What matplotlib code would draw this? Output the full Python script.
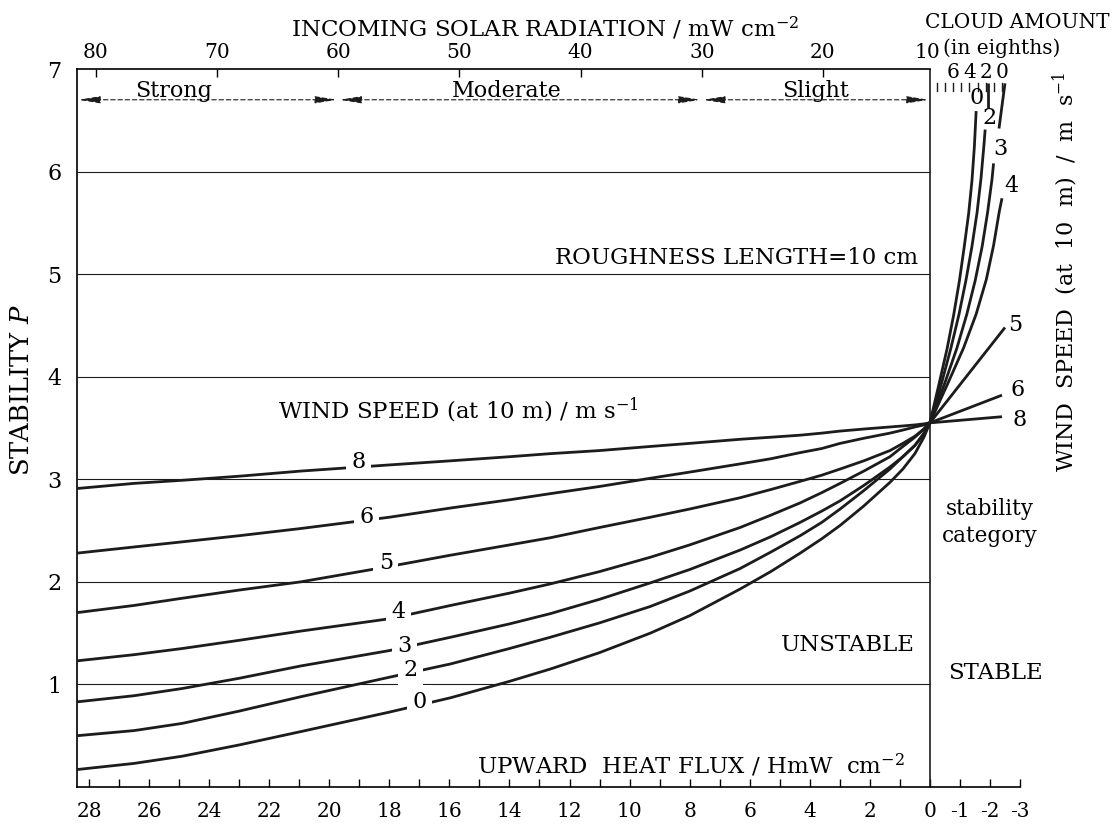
import matplotlib.pyplot as plt

plt.rcParams['font.family'] = 'DejaVu Serif'
plt.rcParams['mathtext.fontset'] = 'dejavuserif'

# upward heat flux (mW cm-2) where the unstable curves were read
flux_unst = [28.4, 26.5, 24.9, 23, 20.95, 18, 15.96, 14, 12.64, 11, 9.31, 8,
             6.32, 5.3, 4.32, 3.6, 2.99, 2.2, 1.33, 0.9, 0.5, 0.2, 0.0]
# stability P for each wind speed (m/s), unstable side
stab_unst = {
    '8': [2.91, 2.96, 2.99, 3.03, 3.08, 3.14, 3.18, 3.22, 3.25, 3.28, 3.32, 3.35,
          3.39, 3.41, 3.43, 3.45, 3.47, 3.49, 3.51, 3.52, 3.53, 3.54, 3.55],
    '6': [2.28, 2.34, 2.39, 2.45, 2.52, 2.63, 2.72, 2.80, 2.86, 2.93, 3.01, 3.07,
          3.15, 3.20, 3.26, 3.30, 3.35, 3.40, 3.45, 3.48, 3.51, 3.53, 3.55],
    '5': [1.70, 1.77, 1.84, 1.92, 2.00, 2.15, 2.26, 2.36, 2.43, 2.53, 2.63, 2.71,
          2.82, 2.90, 2.98, 3.04, 3.10, 3.18, 3.28, 3.35, 3.42, 3.49, 3.55],
    '4': [1.23, 1.29, 1.35, 1.43, 1.52, 1.64, 1.77, 1.89, 1.98, 2.10, 2.24, 2.36,
          2.53, 2.65, 2.77, 2.87, 2.96, 3.08, 3.22, 3.32, 3.41, 3.49, 3.55],
    '3': [0.83, 0.89, 0.96, 1.06, 1.18, 1.33, 1.46, 1.59, 1.69, 1.83, 1.99, 2.12,
          2.31, 2.44, 2.58, 2.69, 2.79, 2.94, 3.12, 3.22, 3.33, 3.44, 3.55],
    '2': [0.50, 0.55, 0.62, 0.74, 0.88, 1.07, 1.20, 1.35, 1.46, 1.60, 1.76, 1.91,
          2.13, 2.29, 2.45, 2.58, 2.71, 2.89, 3.10, 3.22, 3.33, 3.45, 3.55],
    '0': [0.17, 0.23, 0.30, 0.41, 0.54, 0.73, 0.87, 1.03, 1.15, 1.31, 1.50, 1.67,
          1.93, 2.10, 2.28, 2.42, 2.55, 2.74, 2.97, 3.10, 3.25, 3.41, 3.55],
}
# stable side (negative heat flux)
flux_st = {
    '8': [0, -2.4],
    '6': [0, -2.4],
    '5': [0, -2.5],
    '4': [0, -0.62, -1.12, -1.54, -1.88, -2.12, -2.31, -2.4],
    '3': [0, -0.51, -0.9, -1.23, -1.51, -1.74, -1.92, -2.07, -2.12],
    '2': [0, -0.4, -0.7, -0.97, -1.2, -1.4, -1.57, -1.7, -1.8, -1.84],
    '0': [0, -0.32, -0.57, -0.79, -0.98, -1.14, -1.29, -1.4, -1.48, -1.54],
}
stab_st = {
    '8': [3.55, 3.61],
    '6': [3.55, 3.82],
    '5': [3.55, 4.48],
    '4': [3.55, 3.95, 4.28, 4.61, 4.95, 5.28, 5.61, 5.74],
    '3': [3.55, 3.95, 4.28, 4.61, 4.94, 5.27, 5.60, 5.93, 6.08],
    '2': [3.55, 3.95, 4.28, 4.61, 4.94, 5.27, 5.60, 5.93, 6.26, 6.41],
    '0': [3.55, 3.95, 4.27, 4.60, 4.93, 5.26, 5.59, 5.91, 6.24, 6.59],
}
# short strokes under the cloud amount scale
top_seg_flux = [[-1.93, -1.93], [-2.5, -2.3]]
top_seg_stab = [[6.86, 6.62], [6.86, 6.42]]

# where the wind speed numbers sit
lab_left_flux = {'8': 19.02, '6': 18.76, '5': 18.12, '4': 17.7, '3': 17.5, '2': 17.3, '0': 17.0}
lab_left_stab = {'8': 3.17, '6': 2.63, '5': 2.18, '4': 1.71, '3': 1.37, '2': 1.14, '0': 0.83}
lab_right_flux = {'0': -1.57, '2': -1.97, '3': -2.33, '4': -2.73, '5': -2.83, '6': -2.93, '8': -3.0}
lab_right_stab = {'0': 6.72, '2': 6.52, '3': 6.22, '4': 5.86, '5': 4.50, '6': 3.87, '8': 3.58}

# solar radiation classes (mW cm-2)
bands = [(81.6, 60, 'Strong', 73.6), (60, 30, 'Moderate', 46.1), (30, 10, 'Slight', 20.6)]
solar_ticks = [80, 70, 60, 50, 40, 30, 20]
cloud_ticks = [0, 1, 2, 3, 4, 5, 6, 7, 8]
cloud_labels = [6, 4, 2, 0]

flux_ticks = list(range(28, -4, -1))
flux_labels = [str(t) if (t <= 0 or t % 2 == 0) else '' for t in flux_ticks]


def h_to_s(h):
    return 20 + (h - 3.56) / 0.4035


def s_to_h(s):
    return 3.56 + 0.4035 * (s - 20)


def cloud_to_h(c):
    return -0.23 - (8 - c) * 0.271


fig = plt.figure(figsize=(11.16, 8.26), dpi=100)
ax = fig.add_axes([77 / 1116, 1 - 787 / 826, (1020 - 77) / 1116, (787 - 69) / 826])
ax.set_xlim(28.4, -3.0)
ax.set_ylim(0, 7)

lc = '#1c1c1c'
ax.hlines(range(1, 7), 0, 28.4, color=lc, lw=0.8)
ax.axvline(0, color=lc, lw=1.2)

for k in stab_unst:
    ax.plot(flux_unst, stab_unst[k], color=lc, lw=2.0, solid_capstyle='round', zorder=3)
    ax.plot(flux_st[k], stab_st[k], color=lc, lw=2.0, solid_capstyle='butt', zorder=3)
    ax.text(lab_left_flux[k], lab_left_stab[k], k, ha='center', va='center', fontsize=16,
            bbox=dict(fc='white', ec='none', pad=4), zorder=4)
    ax.text(lab_right_flux[k], lab_right_stab[k], k, ha='center', va='center', fontsize=16)
for fx, st in zip(top_seg_flux, top_seg_stab):
    ax.plot(fx, st, color=lc, lw=2.0, solid_capstyle='butt')

# cloud amount mini scale
for c in cloud_ticks:
    ax.plot([cloud_to_h(c)] * 2, [6.86, 6.79], color=lc, lw=1.0)
for c in cloud_labels:
    ax.text(cloud_to_h(c), 6.97, str(c), ha='center', va='center', fontsize=14.5)

# radiation classes
for s0, s1, name, s_txt in bands:
    h0 = min(s_to_h(s0), 28.4)
    h1 = max(s_to_h(s1), 0)
    ax.annotate('', xy=(h1, 6.70), xytext=(h0, 6.70),
                arrowprops=dict(arrowstyle='<|-|>,head_length=1.1,head_width=0.18', lw=0.8,
                                ls=(0, (4, 2.5)), color=lc, shrinkA=1, shrinkB=1,
                                mutation_scale=12))
    ax.text(s_to_h(s_txt), 6.68, name, ha='center', va='bottom', fontsize=16)

ax.spines['right'].set_visible(False)
ax.spines['top'].set_bounds(28.4, 0)
for sp in ax.spines.values():
    sp.set_linewidth(1.2)
ax.set_xticks(flux_ticks)
ax.set_xticklabels(flux_labels)
ax.set_yticks(range(1, 8))
ax.tick_params(axis='x', direction='in', length=6, width=1, labelsize=14.5, pad=11)
ax.tick_params(axis='y', length=0, labelsize=16, pad=11)

secax = ax.secondary_xaxis('top', functions=(h_to_s, s_to_h))
secax.set_xticks(solar_ticks)
secax.spines['top'].set_visible(False)
secax.tick_params(direction='in', length=6, width=1, labelsize=14.5, pad=5)
ax.annotate('10', xy=(0.1, 1), xycoords=('data', 'axes fraction'), xytext=(0, 5),
            textcoords='offset points', ha='center', va='bottom', fontsize=14.5)

ax.text(0.4, 5.16, 'ROUGHNESS LENGTH=10 cm', ha='right', va='center', fontsize=16.5)
ax.text(21.71, 3.67, 'WIND SPEED (at 10 m) / m s$^{-1}$', ha='left', va='center', fontsize=16.5)
ax.text(-2.0, 2.58, 'stability\ncategory', ha='center', va='center', fontsize=15.5, linespacing=1.3)
ax.text(2.73, 1.38, 'UNSTABLE', ha='center', va='center', fontsize=16.5)
ax.text(-2.17, 1.11, 'STABLE', ha='center', va='center', fontsize=16.5)
ax.text(7.95, 0.21, 'UPWARD  HEAT FLUX / HmW  cm$^{-2}$', ha='center', va='center', fontsize=16.5)

fig.text(545 / 1116, 1 - 28 / 826, 'INCOMING SOLAR RADIATION / mW cm$^{-2}$',
         ha='center', va='center', fontsize=16.5)
fig.text(1017 / 1116, 1 - 22 / 826, 'CLOUD AMOUNT', ha='center', va='center', fontsize=14.5)
fig.text(1002 / 1116, 1 - 48 / 826, '(in eighths)', ha='center', va='center', fontsize=14.5)
fig.text(22 / 1116, 1 - 390 / 826, 'STABILITY $P$', ha='center', va='center', fontsize=18.5,
         rotation=90)
fig.text(1065 / 1116, 1 - 272 / 826, 'WIND  SPEED  (at  10  m)  /  m  s$^{-1}$', ha='center',
         va='center', fontsize=16, rotation=90)

plt.savefig('out.png', dpi=100)
